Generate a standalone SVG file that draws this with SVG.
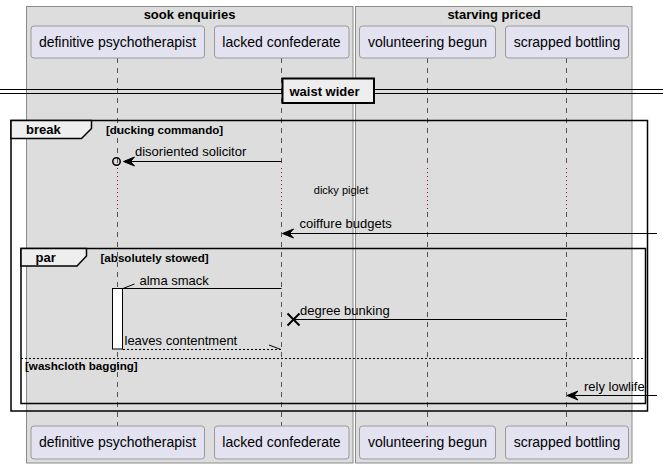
<svg xmlns="http://www.w3.org/2000/svg" width="663" height="468" viewBox="0 0 663 468">
<style>
.grp{fill:#DDDDDD;stroke:#8A8A8A;stroke-width:1}
.gt{font-family:"Liberation Sans",Arial,sans-serif;font-size:13px;font-weight:bold;fill:#000;text-anchor:middle}
.pb{fill:#E2E2F0;stroke:#9A9A9A;stroke-width:1}
.pt{font-family:"Liberation Sans",Arial,sans-serif;font-size:14px;fill:#000;text-anchor:middle}
.ll{stroke:#555;stroke-width:1;stroke-dasharray:5,5;fill:none}
.dl{stroke:#A80036;stroke-width:1;stroke-dasharray:1,3;fill:none}
.fr{fill:none;stroke:#000;stroke-width:1.5}
.tab{fill:#EEEEEE;stroke:#000;stroke-width:1.5}
.ft{font-family:"Liberation Sans",Arial,sans-serif;font-size:13px;font-weight:bold;fill:#000}
.fc{font-family:"Liberation Sans",Arial,sans-serif;font-size:11.6px;font-weight:bold;fill:#000}
.msg{stroke:#000;stroke-width:1;fill:none}
.ret{stroke:#000;stroke-width:1;fill:none;stroke-dasharray:2,2}
.mt{font-family:"Liberation Sans",Arial,sans-serif;font-size:13px;fill:#000}
.ah{fill:#000;stroke:#000;stroke-width:1}
</style>
<g id="box-sook-enquiries">
<rect class="grp" x="26.5" y="6.5" width="326.5" height="456.5"/>
<text class="gt" x="189.5" y="19">sook enquiries</text>
</g>
<g id="box-starving-priced">
<rect class="grp" x="355.5" y="6.5" width="276.5" height="456.5"/>
<text class="gt" x="494" y="19">starving priced</text>
</g>
<g id="lifelines">
<path class="ll" d="M117.5,58 V168 M281.5,58 V168 M427.5,58 V168 M566.5,58 V168"/>
<path class="dl" d="M117.5,168 V212 M281.5,168 V212 M427.5,168 V212 M566.5,168 V212"/>
<path class="ll" d="M117.5,212 V426 M281.5,212 V426 M427.5,212 V426 M566.5,212 V426"/>
</g>
<g id="p-definitive-psychotherapist">
<rect class="pb" x="31" y="26" width="173.5" height="32" rx="3"/>
<text class="pt" x="117.5" y="47">definitive psychotherapist</text>
<rect class="pb" x="31" y="426" width="173.5" height="33" rx="3"/>
<text class="pt" x="117.5" y="447">definitive psychotherapist</text>
</g>
<g id="p-lacked-confederate">
<rect class="pb" x="214.5" y="26" width="134.5" height="32" rx="3"/>
<text class="pt" x="281.5" y="47">lacked confederate</text>
<rect class="pb" x="214.5" y="426" width="134.5" height="33" rx="3"/>
<text class="pt" x="281.5" y="447">lacked confederate</text>
</g>
<g id="p-volunteering-begun">
<rect class="pb" x="359.5" y="26" width="136" height="32" rx="3"/>
<text class="pt" x="427.5" y="47">volunteering begun</text>
<rect class="pb" x="359.5" y="426" width="136" height="33" rx="3"/>
<text class="pt" x="427.5" y="447">volunteering begun</text>
</g>
<g id="p-scrapped-bottling">
<rect class="pb" x="505.5" y="26" width="123" height="32" rx="3"/>
<text class="pt" x="567" y="47">scrapped bottling</text>
<rect class="pb" x="505.5" y="426" width="123" height="33" rx="3"/>
<text class="pt" x="567" y="447">scrapped bottling</text>
</g>
<g id="divider-waist-wider">
<path stroke="#000" stroke-width="1" fill="none" d="M0,89.5 H663 M0,93.5 H663"/>
<rect x="282.5" y="78.5" width="91.5" height="24.5" fill="#EEEEEE" stroke="#000" stroke-width="2"/>
<text class="ft" x="289.5" y="96">waist wider</text>
</g>
<g id="frame-break">
<rect class="fr" x="11" y="120.5" width="636.5" height="290.5"/>
<path class="tab" d="M11,120.5 H91.5 V128.5 L81.5,138.5 H11 Z"/>
<text class="ft" x="26" y="134">break</text>
<text class="fc" x="106" y="133.5">[ducking commando]</text>
</g>
<g id="frame-par">
<rect class="fr" x="21" y="248.5" width="624.5" height="155"/>
<path class="tab" d="M21,248.5 H86.5 V256 L77,266 H21 Z"/>
<text class="ft" x="35.5" y="262">par</text>
<text class="fc" x="100.5" y="261.5">[absolutely stowed]</text>
<path stroke="#000" stroke-width="1" stroke-dasharray="2,2" fill="none" d="M21,358.5 H645.5"/>
<text class="fc" x="25" y="370">[washcloth bagging]</text>
</g>
<g id="activation">
<rect x="112.5" y="288.5" width="10" height="60.5" fill="#FFFFFF" stroke="#000" stroke-width="1"/>
</g>
<g id="connectors">
<g id="m-disoriented-solicitor">
<path class="msg" d="M281.5,161.5 H124"/>
<polygon class="ah" points="123.5,161.5 134.5,157 130.5,161.5 134.5,166"/>
<circle cx="116.5" cy="161.5" r="3.7" fill="none" stroke="#000" stroke-width="1.5"/>
<text class="mt" x="135" y="155.5">disoriented solicitor</text>
</g>
<g id="delay-dicky-piglet">
<text font-family="Liberation Sans, Arial, sans-serif" font-size="11" fill="#000" text-anchor="middle" x="341" y="194">dicky piglet</text>
</g>
<g id="m-coiffure-budgets">
<path class="msg" d="M657,233.5 H283"/>
<polygon class="ah" points="282.5,233.5 293.5,229 289.5,233.5 293.5,238"/>
<text class="mt" x="299.5" y="228">coiffure budgets</text>
</g>
<g id="m-alma-smack">
<path class="msg" d="M281.5,288.5 H122.5 M123,288.5 L134.5,284"/>
<text class="mt" x="139.5" y="284.5">alma smack</text>
</g>
<g id="m-degree-bunking">
<path class="msg" d="M566.5,319.5 H293.5"/>
<path stroke="#000" stroke-width="2" fill="none" d="M287.5,313.5 L299.5,325.5 M299.5,313.5 L287.5,325.5"/>
<text class="mt" x="300" y="314.5">degree bunking</text>
</g>
<g id="m-leaves-contentment">
<path class="ret" d="M123,349.5 H281.5"/>
<path class="msg" d="M281,349.5 L269,345"/>
<text class="mt" x="124.5" y="345">leaves contentment</text>
</g>
<g id="m-rely-lowlife">
<path class="msg" d="M657,395.5 H568"/>
<polygon class="ah" points="567,395.5 578,391 574,395.5 578,400"/>
<text class="mt" x="584" y="391">rely lowlife</text>
</g>
</g>
</svg>
